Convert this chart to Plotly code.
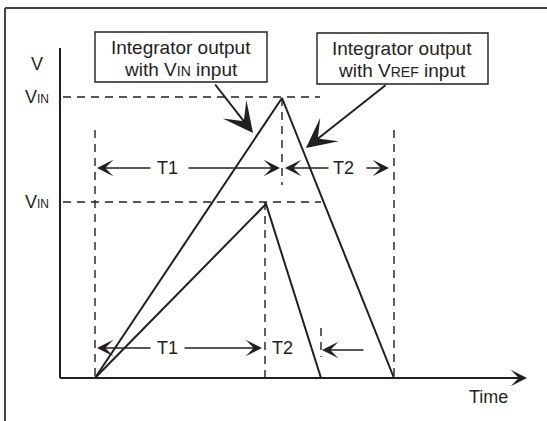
import plotly.graph_objects as go

# ---- data (time units along x, voltage units along y) ----
big_t = [0, 187, 299]          # integrator ramp: Vin high
big_v = [0, 280, 0]
small_t = [0, 171, 226]        # integrator ramp: Vin low
small_v = [0, 174, 0]
vin_levels = [281, 176]        # dashed VIN reference levels
level_labels = ["V<span style='font-size:12px'>IN</span>", "V<span style='font-size:12px'>IN</span>"]
axis_t0, axis_t1 = -35, 432    # axis extents
axis_vtop = 330

INK = "#231f20"
FONT = "Liberation Sans, Arial, sans-serif"
DASH = "8px,6px"

fig = go.Figure()

# ramps
fig.add_trace(go.Scatter(x=big_t, y=big_v, mode="lines",
                         line=dict(color=INK, width=2), hoverinfo="skip"))
fig.add_trace(go.Scatter(x=small_t, y=small_v, mode="lines",
                         line=dict(color=INK, width=2), hoverinfo="skip"))

# dashed reference lines
dashed = [
    ([-32, 225], [vin_levels[0], vin_levels[0]]),
    ([-32, 226], [vin_levels[1], vin_levels[1]]),
    ([0, 0], [248, 0]),
    ([big_t[1], big_t[1]], [big_v[1], 193]),
    ([big_t[2], big_t[2]], [248, 0]),
    ([170, 170], [vin_levels[1], 0]),
    ([small_t[2], small_t[2]], [50, 21]),
]
for xs, ys in dashed:
    fig.add_trace(go.Scatter(x=xs, y=ys, mode="lines",
                             line=dict(color=INK, width=1.4, dash=DASH),
                             hoverinfo="skip"))

shapes = []
# axes
shapes.append(dict(type="line", x0=axis_t0, x1=axis_t1 - 6, y0=0, y1=0,
                   line=dict(color=INK, width=2)))
shapes.append(dict(type="line", x0=axis_t0, x1=axis_t0, y0=0, y1=axis_vtop,
                   line=dict(color=INK, width=2)))
# outer frame (left + top)
shapes.append(dict(type="line", xref="paper", yref="paper", x0=5/547, x1=5/547,
                   y0=0, y1=1 - 8/421, line=dict(color="#444", width=2)))
shapes.append(dict(type="line", xref="paper", yref="paper", x0=5/547, x1=1,
                   y0=1 - 8/421, y1=1 - 8/421, line=dict(color="#444", width=2)))
# callout boxes
shapes.append(dict(type="rect", x0=0, x1=172, y0=296, y1=346,
                   line=dict(color=INK, width=1.4), fillcolor="white"))
shapes.append(dict(type="rect", x0=222, x1=393, y0=294, y1=345,
                   line=dict(color=INK, width=1.4), fillcolor="white"))

ann = []
def txt(x, y, s, size=18, xanchor="center"):
    ann.append(dict(x=x, y=y, text=s, showarrow=False, xanchor=xanchor,
                    yanchor="middle", font=dict(family=FONT, size=size, color=INK)))

def arrow(x0, y0, x1, y1, head=3, size=2.1, width=1.3):
    ann.append(dict(x=x1, y=y1, ax=x0, ay=y0, axref="x", ayref="y", xref="x", yref="y",
                    text="", showarrow=True, arrowhead=head, arrowsize=size,
                    arrowwidth=width, arrowcolor=INK, standoff=0))

# box texts
txt(86, 331, "Integrator output", size=19)
txt(86, 309, "with V<span style='font-size:14px'>IN</span> input", size=19)
txt(307, 330, "Integrator output", size=19)
txt(307, 308, "with V<span style='font-size:14px'>REF</span> input", size=19)

# axis labels
txt(-58, 314, "V")
txt(-58, vin_levels[0], level_labels[0])
txt(-58, vin_levels[1], level_labels[1])
txt(393, -19, "Time")

# x-axis arrow head
arrow(axis_t1 - 20, 0, axis_t1, 0, head=3, size=1.7, width=1.6)

# timing arrows (top)
txt(72, 210, "T1")
arrow(57, 210, 2, 210)
arrow(92, 210, 185, 210)
txt(248, 210, "T2")
arrow(235, 210, 190, 210)
arrow(270, 210, 294, 210)
# timing arrows (bottom)
txt(72, 30, "T1")
arrow(57, 30, 2, 30)
arrow(88, 30, 167, 30)
txt(187, 30, "T2")
arrow(270, 28, 227, 28)

# callout arrows
arrow(119, 295, 158, 245, head=3, size=2.5, width=2)
arrow(292, 294, 211, 230, head=3, size=2.5, width=2)

fig.update_layout(
    width=547, height=421, margin=dict(l=0, r=0, t=0, b=0),
    paper_bgcolor="white", plot_bgcolor="white", showlegend=False,
    xaxis=dict(range=[-95, 452], visible=False, fixedrange=True),
    yaxis=dict(range=[-43, 378], visible=False, fixedrange=True),
    shapes=shapes, annotations=ann,
)
fig.write_html("out.html", config={"displayModeBar": False},
               post_script="document.body.style.margin='0';")
